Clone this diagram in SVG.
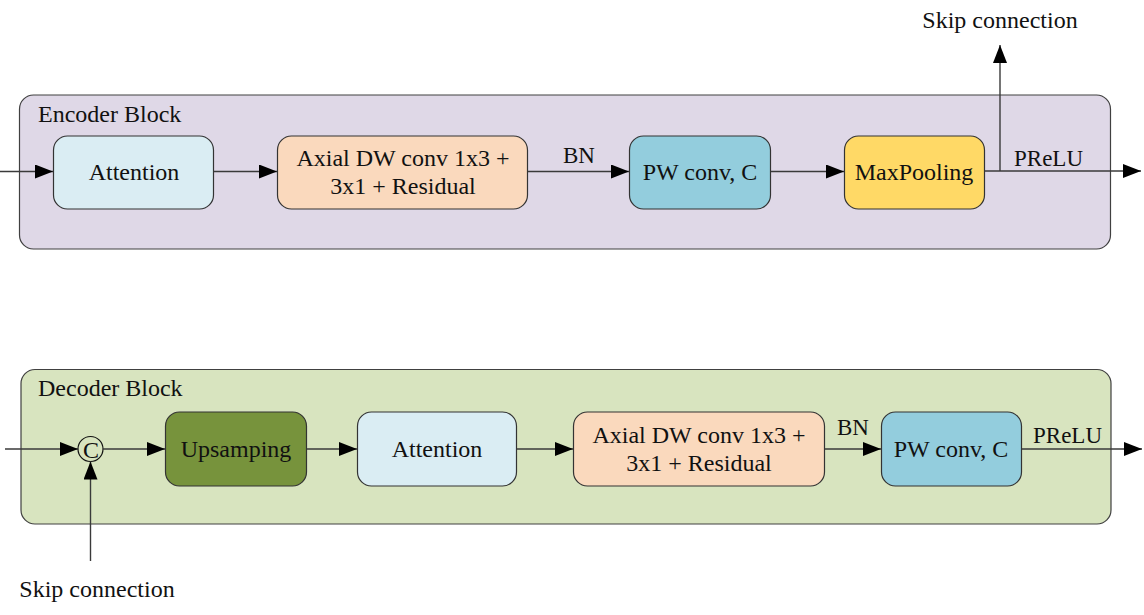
<svg xmlns="http://www.w3.org/2000/svg" width="1144" height="615" viewBox="0 0 1144 615">
<defs>
<marker id="ah" markerWidth="18" markerHeight="14" refX="18" refY="7" orient="auto" markerUnits="userSpaceOnUse">
<path d="M0,0 L18,7 L0,14 Z" fill="#000"/>
</marker>
</defs>
<style>
text{font-size:24px;fill:#111}
.lb{font-size:23px}
.blk{stroke:#404040;stroke-width:1.2}
.nd{stroke:#333;stroke-width:1.2}
.c{text-anchor:middle}
.ln{stroke:#3a3a3a;stroke-width:1.4;fill:none}
</style>
<rect width="1144" height="615" fill="#fff"/>
<g font-family="Liberation Serif, Times New Roman, serif">
<g id="encoder">
<rect class="blk" x="19.5" y="95" width="1091" height="154" rx="14" fill="#dfd8e7"/>
<text x="38" y="122">Encoder Block</text>
</g>
<g id="decoder">
<rect class="blk" x="21" y="369.5" width="1090" height="154.5" rx="14" fill="#d8e4bf"/>
<text x="38" y="396">Decoder Block</text>
</g>
<g id="enc-attention">
<rect class="nd" x="53.5" y="136" width="160" height="73" rx="14" fill="#daedf3"/>
<text class="c" x="134" y="180">Attention</text>
</g>
<g id="enc-axial">
<rect class="nd" x="277.5" y="136" width="250" height="73" rx="14" fill="#fad9bd"/>
<text class="c" x="403" y="166">Axial DW conv 1x3 +</text>
<text class="c" x="403" y="194">3x1 + Residual</text>
</g>
<g id="enc-pw">
<rect class="nd" x="629.5" y="136" width="141" height="73" rx="14" fill="#93cddd"/>
<text class="c" x="700" y="180">PW conv, C</text>
</g>
<g id="enc-maxpool">
<rect class="nd" x="844.5" y="136" width="140" height="73" rx="14" fill="#ffd966"/>
<text class="c" x="914" y="180">MaxPooling</text>
</g>
<g id="dec-concat">
<circle cx="90.5" cy="449" r="12.5" fill="none" stroke="#111" stroke-width="1.2"/>
<text class="c" x="91" y="457.5" style="font-size:24px">C</text>
</g>
<g id="dec-upsampling">
<rect class="nd" x="165.5" y="412" width="141" height="74" rx="14" fill="#77933c"/>
<text class="c" x="236" y="457">Upsamping</text>
</g>
<g id="dec-attention">
<rect class="nd" x="357.5" y="412" width="159" height="74" rx="14" fill="#daedf3"/>
<text class="c" x="437" y="457">Attention</text>
</g>
<g id="dec-axial">
<rect class="nd" x="573.5" y="412" width="251" height="74" rx="14" fill="#fad9bd"/>
<text class="c" x="699" y="443">Axial DW conv 1x3 +</text>
<text class="c" x="699" y="471">3x1 + Residual</text>
</g>
<g id="dec-pw">
<rect class="nd" x="881.5" y="412" width="140" height="74" rx="14" fill="#93cddd"/>
<text class="c" x="951" y="457">PW conv, C</text>
</g>
<g id="connectors">
<line class="ln" x1="0" y1="171.5" x2="53" y2="171.5" marker-end="url(#ah)"/>
<line class="ln" x1="214" y1="171.5" x2="277" y2="171.5" marker-end="url(#ah)"/>
<line class="ln" x1="528" y1="171.5" x2="629" y2="171.5" marker-end="url(#ah)"/>
<line class="ln" x1="771" y1="171.5" x2="844" y2="171.5" marker-end="url(#ah)"/>
<line class="ln" x1="985" y1="171" x2="1141" y2="171" marker-end="url(#ah)"/>
<line class="ln" x1="1000" y1="171" x2="1000" y2="45" stroke="#111" marker-end="url(#ah)"/>
<line class="ln" x1="5" y1="449" x2="78" y2="449" marker-end="url(#ah)"/>
<line class="ln" x1="103" y1="449" x2="165" y2="449" marker-end="url(#ah)"/>
<line class="ln" x1="307" y1="449" x2="357" y2="449" marker-end="url(#ah)"/>
<line class="ln" x1="517" y1="449" x2="573" y2="449" marker-end="url(#ah)"/>
<line class="ln" x1="825" y1="449" x2="881" y2="449" marker-end="url(#ah)"/>
<line class="ln" x1="1022" y1="449" x2="1142" y2="449" marker-end="url(#ah)"/>
<line class="ln" x1="90.5" y1="561" x2="90.5" y2="461.5" marker-end="url(#ah)"/>
<text class="lb" x="563" y="163">BN</text>
<text class="lb" x="1014" y="166">PReLU</text>
<text class="lb" x="837" y="435">BN</text>
<text class="lb" x="1033" y="443">PReLU</text>
<text class="c" x="1000" y="28">Skip connection</text>
<text class="c" x="97" y="597">Skip connection</text>
</g>
</g>
</svg>
